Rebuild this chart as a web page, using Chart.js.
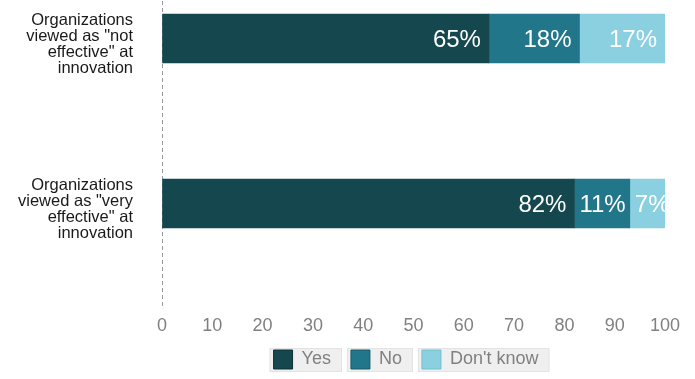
<!DOCTYPE html>
<html>
<head>
<meta charset="utf-8">
<script src="https://cdn.jsdelivr.net/npm/chart.js@4/dist/chart.umd.min.js"></script>
<style>
  html, body { margin: 0; padding: 0; background: #ffffff; }
  #wrap { width: 695px; height: 379px; position: relative; }
</style>
</head>
<body>
<div id="wrap"><canvas id="c"></canvas></div>
<script>
const categories = [
  ['Organizations', 'viewed as "not', 'effective" at', 'innovation'],
  ['Organizations', 'viewed as "very', 'effective" at', 'innovation']
];
const seriesNames = ['Yes', 'No', "Don't know"];
const yesValues = [65, 82];
const noValues = [18, 11];
const dontKnowValues = [17, 7];
const xTickStep = 10;
const seriesColors = ['#15474f', '#22768a', '#8ad0e0'];
const swatchBorders = ['#0c3037', '#175a69', '#72bfd1'];

const allSeries = [yesValues, noValues, dontKnowValues];
const FONT = '"Liberation Sans", Arial, sans-serif';

const legendBg = {
  id: 'legendBg',
  beforeDraw(chart) {
    const lg = chart.legend;
    if (!lg || !lg.legendHitBoxes) return;
    const ctx = chart.ctx;
    ctx.save();
    lg.legendHitBoxes.forEach(h => {
      const x = h.left - 4, y = h.top - 2, w = h.width, hh = h.height + 5;
      ctx.fillStyle = '#efefef';
      ctx.fillRect(x, y, w, hh);
      ctx.strokeStyle = '#e3e3e3';
      ctx.lineWidth = 1;
      ctx.strokeRect(x + 0.5, y + 0.5, w - 1, hh - 1);
    });
    ctx.restore();
  }
};

const barLabels = {
  id: 'barLabels',
  afterDatasetsDraw(chart) {
    const ctx = chart.ctx;
    const a = chart.chartArea;
    ctx.save();
    ctx.beginPath();
    ctx.rect(a.left, a.top, a.right - a.left, a.bottom - a.top);
    ctx.clip();
    ctx.font = '24px ' + FONT;
    ctx.fillStyle = '#ffffff';
    ctx.textAlign = 'right';
    ctx.textBaseline = 'middle';
    chart.data.datasets.forEach((ds, di) => {
      const meta = chart.getDatasetMeta(di);
      meta.data.forEach((el, i) => {
        const txt = ds.data[i].x + '%';
        const w = ctx.measureText(txt).width;
        const right = Math.max(el.x - 8, Math.min(el.x, el.base) + 5 + w);
        ctx.fillText(txt, right, el.y + 2);
      });
    });
    ctx.restore();
  }
};

new Chart(document.getElementById('c'), {
  type: 'bar',
  data: {
    datasets: allSeries.map((vals, s) => ({
      label: seriesNames[s],
      data: vals.map((v, i) => ({ x: v, y: i })),
      backgroundColor: seriesColors[s],
      borderColor: swatchBorders[s],
      borderWidth: 0,
      barThickness: 49
    }))
  },
  options: {
    indexAxis: 'y',
    responsive: true,
    maintainAspectRatio: false,
    animation: false,
    layout: { padding: { top: 1, right: 30, left: 0, bottom: 0 } },
    scales: {
      x: {
        type: 'linear',
        stacked: true,
        min: 0,
        max: 100,
        ticks: {
          stepSize: xTickStep,
          color: '#808080',
          padding: 10,
          font: { family: FONT, size: 18, lineHeight: 1.0 }
        },
        grid: {
          display: true,
          drawTicks: false,
          lineWidth: 1,
          color: (ctx) => (ctx.tick && ctx.tick.value === 0 ? '#9a9a9a' : 'rgba(0,0,0,0)')
        },
        border: { display: false, dash: [4, 3] }
      },
      y: {
        type: 'linear',
        stacked: true,
        reverse: true,
        offset: false,
        min: -0.227,
        max: 1.627,
        afterBuildTicks(scale) {
          scale.ticks = categories.map((_, i) => ({ value: i }));
        },
        afterFit(scale) {
          scale.width = 162;
          scale.paddingTop = 0;
          scale.paddingBottom = 0;
        },
        ticks: {
          autoSkip: false,
          color: '#1a1a1a',
          padding: 29,
          labelOffset: 6,
          font: { family: FONT, size: 16.5, lineHeight: 0.96 },
          callback: (v) => categories[v]
        },
        grid: { offset: false, display: false, drawTicks: false },
        border: { display: false }
      }
    },
    plugins: {
      legend: {
        position: 'bottom',
        fullSize: false,
        labels: {
          boxWidth: 19,
          boxHeight: 19,
          padding: 5,
          color: '#808080',
          font: { family: FONT, size: 18 },
          generateLabels(chart) {
            return chart.data.datasets.map((ds, i) => ({
              text: ds.label + '   ',
              fillStyle: seriesColors[i],
              strokeStyle: swatchBorders[i],
              lineWidth: 1,
              fontColor: '#808080',
              hidden: false,
              datasetIndex: i
            }));
          }
        }
      },
      tooltip: { enabled: false }
    }
  },
  plugins: [legendBg, barLabels]
});
</script>
</body>
</html>
